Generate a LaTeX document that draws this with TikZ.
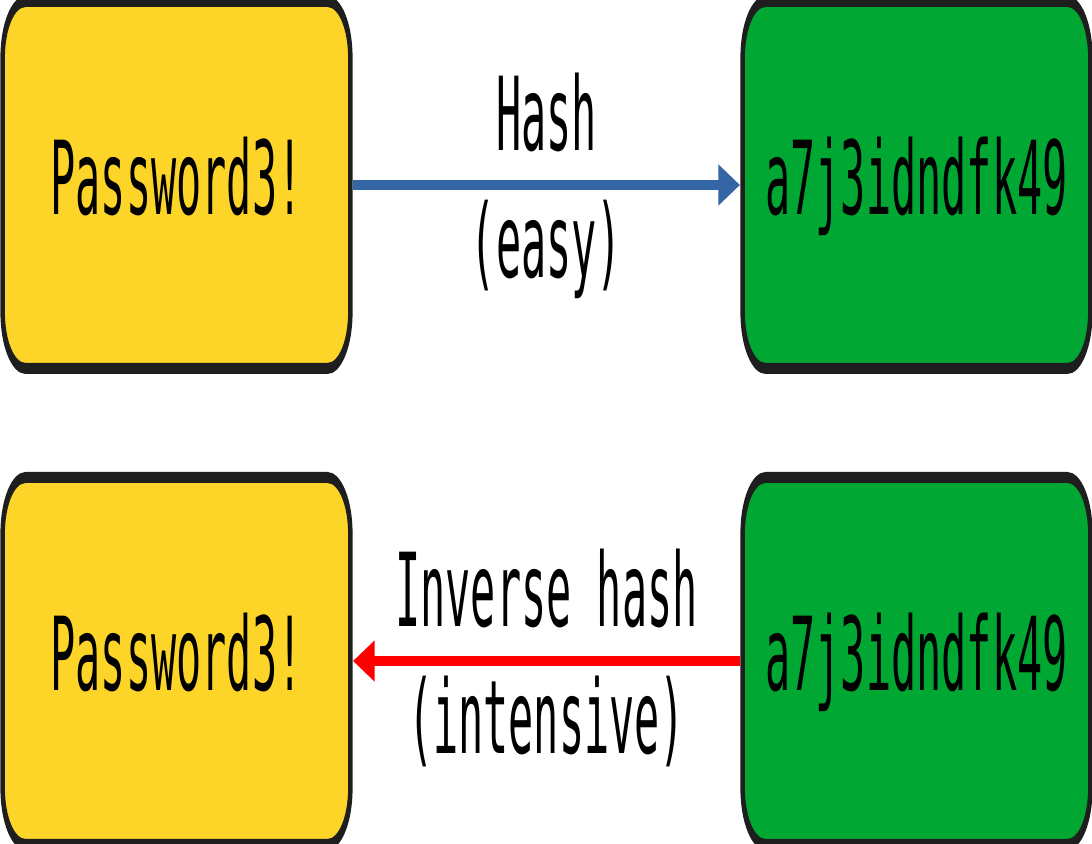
\documentclass[tikz,border=0pt]{standalone}
\usepackage{fontspec}
\setmonofont{DejaVu Sans Mono}
\usetikzlibrary{arrows.meta}

\definecolor{pwyellow}{HTML}{FDD428}
\definecolor{hashgreen}{HTML}{00A733}
\definecolor{boxline}{HTML}{1E1E1E}
\definecolor{easyblue}{HTML}{3465A4}
\definecolor{hardred}{HTML}{FF0000}

\tikzset{
    pwbox/.style={draw=boxline, line width=5.5pt, rounded corners=28pt,
        minimum width=424pt, minimum height=183.5pt, inner sep=0pt,
        text height=38.8pt, text depth=9.2pt,
        font=\ttfamily\fontsize{51}{63}\selectfont},
    lbl/.style={inner sep=0pt, anchor=base, midway, text=black,
        font=\ttfamily\fontsize{51}{63}\selectfont},
    hasharrow/.style={line width=5pt, -{Triangle[length=26.8pt, width=19pt]}}
}

\begin{document}
\begin{tikzpicture}[x=0.5pt,y=0.5pt]
    \useasboundingbox (0,0) rectangle (1092,844);
    \begin{scope}[x=1.2195pt, transform canvas={xscale=0.41}]

        % Hash
        \node[pwbox, fill=pwyellow] (pw1) at (176.5,659) {Password3!};
        \node[pwbox, fill=hashgreen] (hs1) at (916.5,659) {a7j3idndfk49};
        \draw[hasharrow, easyblue] (pw1.east) -- (hs1.west)
            node[lbl, yshift=17pt] (hashlbl) {Hash}
            node[lbl, yshift=-46.5pt] (easylbl) {(easy)};

        % Inverse hash
        \node[pwbox, fill=pwyellow] (pw2) at (176.5,183) {Password3!};
        \node[pwbox, fill=hashgreen] (hs2) at (916.5,183) {a7j3idndfk49};
        \draw[hasharrow, hardred] (hs2.west) -- (pw2.east)
            node[lbl, yshift=17pt] (invlbl) {Inverse hash}
            node[lbl, yshift=-46.5pt] (intlbl) {(intensive)};

    \end{scope}
\end{tikzpicture}
\end{document}
